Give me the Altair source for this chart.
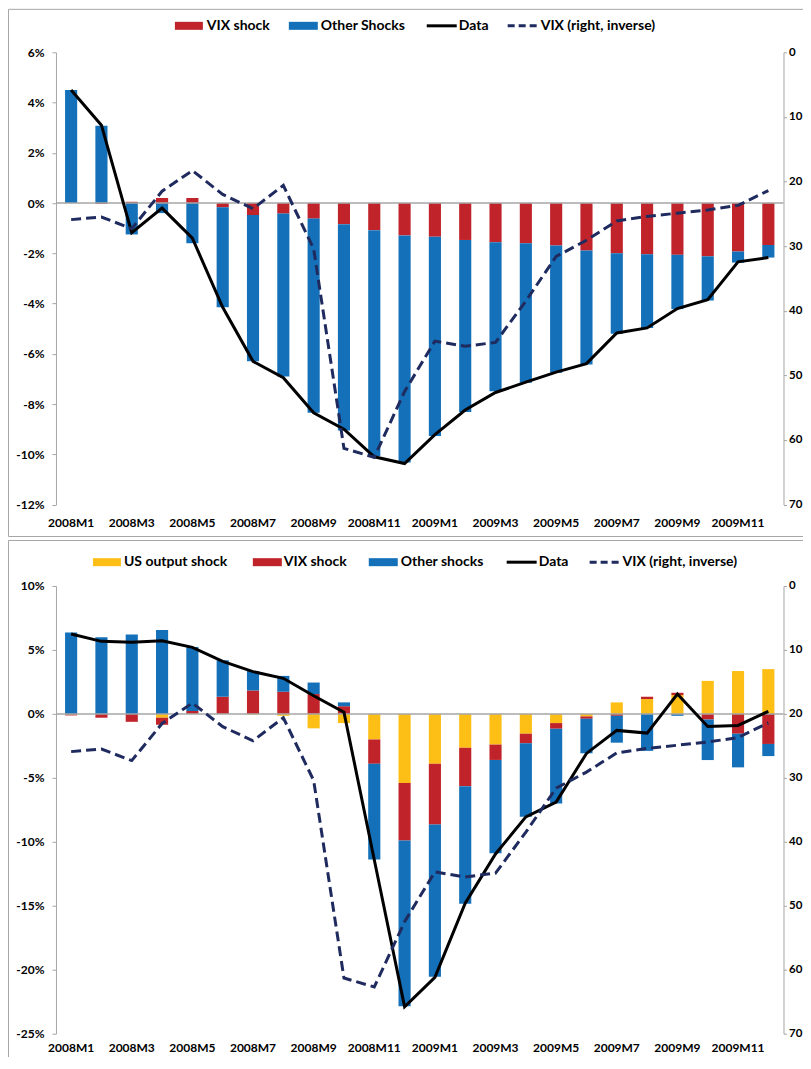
import altair as alt
import pandas as pd

# ---- data ----
months = [f"{yr}M{m}" for yr in (2008, 2009) for m in range(1, 13)]

# VIX level (right axis, inverted) - same series in both panels
vix = [25.9, 25.5, 27.3, 21.5, 18.3, 22.0, 24.2, 20.6, 30.4, 61.3, 62.7, 52.5,
       44.7, 45.5, 44.9, 38.5, 31.6, 29.1, 26.1, 25.4, 24.9, 24.4, 23.7, 21.4]

# top panel (percent)
top_vix_shock = [0.0, -0.03, 0.05, 0.2, 0.2, -0.17, -0.48, -0.42, -0.62, -0.84, -1.08, -1.29,
                 -1.34, -1.47, -1.56, -1.6, -1.69, -1.89, -2.0, -2.04, -2.06, -2.12, -1.93, -1.67]
top_other = [4.5, 3.08, -1.25, -0.4, -1.6, -3.98, -5.82, -6.48, -7.73, -8.21, -8.99, -9.04,
             -7.93, -6.85, -5.93, -5.55, -5.07, -4.54, -3.2, -2.93, -2.16, -1.76, -0.44, -0.5]
top_data = [4.5, 3.1, -1.18, -0.2, -1.4, -4.15, -6.3, -6.95, -8.35, -9.0, -10.1, -10.37,
            -9.22, -8.24, -7.54, -7.13, -6.73, -6.39, -5.17, -4.97, -4.2, -3.85, -2.34, -2.17]

# bottom panel (percent)
bot_us = [-0.04, 0.0, 0.0, -0.3, 0.0, 0.0, -0.05, -0.15, -1.13, -0.72, -2.0, -5.4,
          -3.9, -2.65, -2.4, -1.55, -0.72, -0.2, 0.9, 1.16, 1.47, 2.58, 3.35, 3.5]
bot_vix_shock = [-0.08, -0.3, -0.62, -0.55, 0.23, 1.34, 1.83, 1.73, 1.55, 0.6, -1.9, -4.5,
                 -4.75, -3.0, -1.2, -0.75, -0.44, -0.18, -0.15, 0.18, 0.18, -0.44, -1.55, -2.35]
bot_other = [6.37, 6.0, 6.2, 6.55, 5.0, 2.85, 1.52, 1.24, 0.9, 0.3, -7.48, -12.95,
             -11.9, -9.2, -7.3, -5.75, -5.85, -2.7, -2.1, -2.89, -0.15, -3.17, -2.63, -0.95]
bot_data = [6.25, 5.67, 5.6, 5.72, 5.2, 4.1, 3.3, 2.78, 1.42, 0.13, -11.4, -22.9,
            -20.6, -14.8, -10.95, -8.05, -6.9, -3.09, -1.29, -1.5, 1.55, -0.98, -0.9, 0.2]

# ---- styling ----
RED = "#C1232B"
BLUE = "#1370B9"
YELLOW = "#FDBF16"
NAVY = "#1F2B5E"
GREY = "#A6A6A6"
FONT = "Lato"
W = 728

color_scale = alt.Scale(
    domain=["US output shock", "VIX shock", "Other Shocks", "Other shocks"],
    range=[YELLOW, RED, BLUE, BLUE],
)


def make_panel(shocks, data, y_domain, y_ticks, legend_items, legend_y,
               border_top, border_bottom, height, x_label_pad):
    rows = []
    for order, (name, values) in enumerate(shocks):
        for m, v in zip(months, values):
            rows.append({"month": m, "shock": name, "value": v, "ord": order})
    bars_df = pd.DataFrame(rows)
    lines_df = pd.DataFrame({"month": months, "data": data, "vix": vix})

    x_enc = alt.X(
        "month:N",
        sort=months,
        scale=alt.Scale(domain=months, paddingInner=0.6, paddingOuter=0.3),
        axis=alt.Axis(values=months[::2], title=None, domain=False, ticks=False,
                      labelAngle=0, labelPadding=x_label_pad, labelFont=FONT, labelFontSize=12,
                      labelFontWeight="bold", labelColor="black", labelOverlap=False),
    )
    y_scale = alt.Scale(domain=y_domain, nice=False)
    y_axis = alt.Axis(values=y_ticks, labelExpr="datum.value + '%'", title=None, grid=False,
                      domainColor=GREY, tickColor=GREY, tickSize=4, labelPadding=8,
                      labelFont=FONT, labelFontSize=12, labelFontWeight="bold", labelColor="black")

    bars = alt.Chart(bars_df).mark_bar().encode(
        x=x_enc,
        y=alt.Y("value:Q", stack="zero", scale=y_scale, axis=y_axis),
        color=alt.Color("shock:N", scale=color_scale, legend=None),
        order=alt.Order("ord:Q"),
    )
    zero = alt.Chart(pd.DataFrame({"zero": [0]})).mark_rule(color=GREY, strokeWidth=1.5).encode(
        y=alt.Y("zero:Q", scale=y_scale, axis=y_axis)
    )
    data_line = alt.Chart(lines_df).mark_line(color="black", strokeWidth=3).encode(
        x=x_enc,
        y=alt.Y("data:Q", scale=y_scale, axis=y_axis),
    )
    vix_line = alt.Chart(lines_df).mark_line(color=NAVY, strokeWidth=3, strokeDash=[10, 5]).encode(
        x=x_enc,
        y=alt.Y("vix:Q", scale=alt.Scale(domain=[0, 70], reverse=True, nice=False),
                axis=alt.Axis(orient="right", values=list(range(0, 71, 10)), title=None, grid=False,
                              domainColor=GREY, tickColor=GREY, tickSize=3, labelPadding=2,
                              labelFont=FONT, labelFontSize=11.5, labelFontWeight="bold",
                              labelColor="black")),
    )
    main = alt.layer(bars, zero, data_line)
    with_vix = alt.layer(main, vix_line).resolve_scale(y="independent")

    # chart-area border (right/bottom edges fall outside the picture) and hand-placed legend
    border = alt.Chart(pd.DataFrame({"b": [0]})).mark_rect(
        fill="white", fillOpacity=0, stroke=GREY, strokeWidth=1
    ).encode(x=alt.value(-47.5), x2=alt.value(774), y=alt.value(border_top), y2=alt.value(border_bottom))

    leg = pd.DataFrame(legend_items, columns=["label", "kind", "x0", "x1", "tx"])
    lx = alt.X("x0:Q", scale=None, axis=None)
    leg_rect = alt.Chart(leg).transform_filter("datum.kind == 'rect'").mark_rect().encode(
        x=lx, x2="x1:Q", y=alt.value(legend_y - 4), y2=alt.value(legend_y + 4),
        color=alt.Color("label:N", scale=color_scale, legend=None),
    )
    leg_line = alt.Chart(leg).transform_filter("datum.kind == 'line'").mark_rule(
        color="black", strokeWidth=3
    ).encode(x=lx, x2="x1:Q", y=alt.value(legend_y))
    leg_dash = alt.Chart(leg).transform_filter("datum.kind == 'dash'").mark_rule(
        color=NAVY, strokeWidth=3, strokeDash=[7, 4]
    ).encode(x=lx, x2="x1:Q", y=alt.value(legend_y))
    leg_text = alt.Chart(leg).mark_text(
        align="left", baseline="middle", font=FONT, fontSize=14, fontWeight="bold", color="black"
    ).encode(x=alt.X("tx:Q", scale=None, axis=None), y=alt.value(legend_y), text="label:N")

    return alt.layer(border, leg_rect, leg_line, leg_dash, leg_text, with_vix).properties(
        width=W, height=height
    )


top = make_panel(
    [("VIX shock", top_vix_shock), ("Other Shocks", top_other)],
    top_data, [-12, 6], list(range(-12, 7, 2)),
    [("VIX shock", "rect", 119, 147, 151),
     ("Other Shocks", "rect", 233, 262, 265),
     ("Data", "line", 371, 401, 403),
     ("VIX (right, inverse)", "dash", 452, 482, 485)],
    -26.5, -43, 484.5, 452.5, 13,
)

bottom = make_panel(
    [("US output shock", bot_us), ("VIX shock", bot_vix_shock), ("Other shocks", bot_other)],
    bot_data, [-25, 10], list(range(-25, 11, 5)),
    [("US output shock", "rect", 37, 65, 68),
     ("VIX shock", "rect", 197, 226, 228),
     ("Other shocks", "rect", 313, 342, 345),
     ("Data", "line", 451, 481, 483),
     ("VIX (right, inverse)", "dash", 534, 564, 567)],
    -23.8, -45.5, 480, 448, 9,
)

# negative right/bottom padding crops the svg at the window edge, like the reference
chart = alt.vconcat(
    top, bottom, spacing=3,
    padding={"left": 0, "top": 0, "right": -27.5, "bottom": -10},
).resolve_scale(y="independent").configure_view(stroke=None)

chart.save("out.html", embed_options={"renderer": "svg", "actions": False})
